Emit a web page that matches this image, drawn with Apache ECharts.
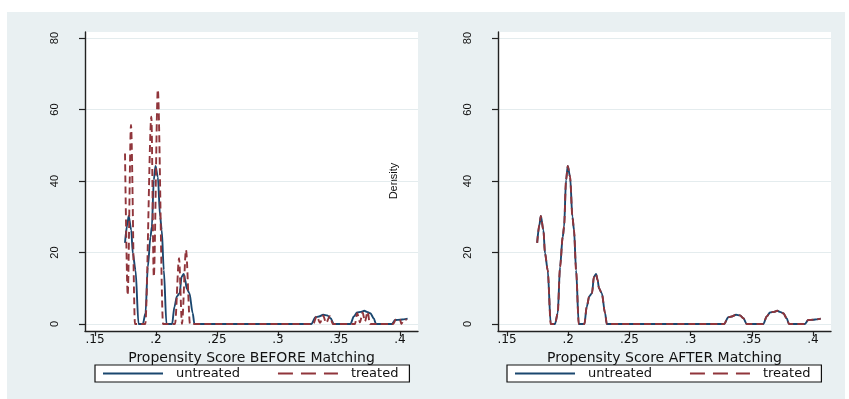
<!DOCTYPE html>
<html>
<head>
<meta charset="utf-8">
<script src="https://cdn.jsdelivr.net/npm/echarts@6/dist/echarts.min.js"></script>
<style>
  html, body { margin: 0; padding: 0; background: #ffffff; }
  #chart { width: 849px; height: 399px; }
</style>
</head>
<body>
<div id="chart"></div>
<script>
// Kernel density estimates of the propensity score: [score, density]
const untreatedDensity = [
  [0.1746, 22.7], [0.1764, 27.7], [0.1776, 30.2], [0.1797, 26.3], [0.1810, 19.8],
  [0.1832, 15.1], [0.1857, 0], [0.1892, 0], [0.1914, 3.0], [0.1933, 16.0],
  [0.1955, 24.4], [0.1966, 27.2], [0.1982, 40.3], [0.1996, 44.2], [0.2015, 41.2],
  [0.2034, 30.0], [0.2047, 26.3], [0.2064, 15.1], [0.2086, 0], [0.2132, 0],
  [0.2151, 4.8], [0.2172, 7.8], [0.2194, 8.6], [0.2210, 13.2], [0.2227, 14.0],
  [0.2240, 12.3], [0.2251, 10.0], [0.2274, 8.6], [0.2301, 3.0], [0.2315, 0],
  [0.3273, 0], [0.3308, 1.9], [0.3336, 2.1], [0.3371, 2.6], [0.3404, 2.4],
  [0.3431, 1.6], [0.3458, 0], [0.3594, 0], [0.3622, 2.1], [0.3649, 3.2],
  [0.3681, 3.4], [0.3708, 3.7], [0.3730, 3.4], [0.3757, 3.0], [0.3785, 1.6],
  [0.3804, 0], [0.3934, 0], [0.3961, 1.1], [0.4003, 1.2], [0.4030, 1.3],
  [0.4063, 1.5]
];

const treatedBeforeDensity = [
  [0.1746, 47.7], [0.1768, 8.1], [0.1795, 55.7], [0.1828, 0], [0.1912, 0],
  [0.1962, 58.0], [0.1982, 13.2], [0.2015, 65.6], [0.2058, 0], [0.2156, 0],
  [0.2189, 18.4], [0.2213, 0], [0.2246, 20.7], [0.2279, 0], [0.3289, 0],
  [0.3318, 2.2], [0.3345, 0.3], [0.3370, 2.4], [0.3395, 0.3], [0.3425, 2.2],
  [0.3450, 0], [0.3631, 0], [0.3650, 3.0], [0.3672, 0.5], [0.3694, 3.2],
  [0.3713, 0.7], [0.3735, 3.4], [0.3754, 0], [0.3945, 0], [0.3967, 1.3],
  [0.4000, 1.3], [0.4011, 0], [0.4033, 1.1], [0.4055, 1.3]
];

// After matching the treated density lies on top of the untreated one
const treatedAfterDensity = [
  [0.1746, 22.7], [0.1764, 27.7], [0.1776, 30.2], [0.1797, 26.3], [0.1810, 19.8],
  [0.1832, 15.1], [0.1857, 0], [0.1892, 0], [0.1914, 3.0], [0.1933, 16.0],
  [0.1955, 24.4], [0.1966, 27.2], [0.1982, 40.3], [0.1996, 44.2], [0.2015, 41.2],
  [0.2034, 30.0], [0.2047, 26.3], [0.2064, 15.1], [0.2086, 0], [0.2132, 0],
  [0.2151, 4.8], [0.2172, 7.8], [0.2194, 8.6], [0.2210, 13.2], [0.2227, 14.0],
  [0.2240, 12.3], [0.2251, 10.0], [0.2274, 8.6], [0.2301, 3.0], [0.2315, 0],
  [0.3273, 0], [0.3308, 1.9], [0.3336, 2.1], [0.3371, 2.6], [0.3404, 2.4],
  [0.3431, 1.6], [0.3458, 0], [0.3594, 0], [0.3622, 2.1], [0.3649, 3.2],
  [0.3681, 3.4], [0.3708, 3.7], [0.3730, 3.4], [0.3757, 3.0], [0.3785, 1.6],
  [0.3804, 0], [0.3934, 0], [0.3961, 1.1], [0.4003, 1.2], [0.4030, 1.3],
  [0.4063, 1.5]
];

const xTicks = [0.15, 0.2, 0.25, 0.3, 0.35, 0.4];
const yTicks = [0, 20, 40, 60, 80];
const panelTitles = ['Propensity Score BEFORE Matching', 'Propensity Score AFTER Matching'];
const groupNames = ['untreated', 'treated'];

const BLUE = '#1a476f';
const RED = '#90353b';
const REGION = '#e9f0f2';

const fmtScore = v => String(+(+v).toFixed(2)).replace(/^0\./, '.');

const grids = [
  { left: 85, top: 32, width: 333, height: 299 },
  { left: 498, top: 32, width: 333, height: 299 }
];
const xRanges = [[0.1418, 0.4148], [0.1426, 0.4147]];
const yRange = [-1.96, 81.7];

function xAxisFor(i) {
  return {
    gridIndex: i, type: 'value', min: xRanges[i][0], max: xRanges[i][1],
    name: panelTitles[i], nameLocation: 'middle', nameGap: 12,
    nameTextStyle: { fontFamily: 'DejaVu Sans', fontSize: 14, color: '#111', verticalAlign: 'top' },
    axisLine: { show: true, onZero: false, lineStyle: { color: '#222', width: 1.4 } },
    axisTick: { show: true, length: 5, customValues: xTicks, lineStyle: { color: '#222', width: 1.2 } },
    axisLabel: { show: true, margin: 3, customValues: xTicks, formatter: fmtScore,
      fontFamily: 'DejaVu Sans', fontSize: 12, color: '#111' },
    splitLine: { show: false }
  };
}

function yAxisFor(i) {
  return {
    gridIndex: i, type: 'value', min: yRange[0], max: yRange[1],
    axisLine: { show: true, onZero: false, lineStyle: { color: '#222', width: 1.4 } },
    axisTick: { show: true, length: 6, customValues: yTicks, lineStyle: { color: '#222', width: 1.2 } },
    axisLabel: { show: true, rotate: 90, margin: 25, customValues: yTicks,
      fontFamily: 'Liberation Sans', fontSize: 11, color: '#111' },
    splitLine: { show: true, lineStyle: { color: '#e4ecee', width: 1 } }
  };
}

function legendFor(left) {
  return {
    left: left, top: 365, orient: 'horizontal',
    data: [
      { name: groupNames[0] },
      { name: groupNames[1], lineStyle: { type: [15, 8] } }
    ],
    itemWidth: 60, itemHeight: 14, itemGap: 37,
    padding: [2, 11, 2, 7],
    borderColor: '#111', borderWidth: 1.2, backgroundColor: '#ffffff',
    itemStyle: { opacity: 0 },
    textStyle: { fontFamily: 'DejaVu Sans', fontSize: 13, color: '#111', padding: [0, 0, 0, 8] },
    selectedMode: false
  };
}

function lineSeries(name, data, i, color, dashed) {
  return {
    type: 'line', name: name, data: data, xAxisIndex: i, yAxisIndex: i,
    symbol: 'none', smooth: 0.3, smoothMonotone: 'x',
    lineStyle: { color: color, width: 1.9, type: dashed ? [7, 4] : 'solid' },
    itemStyle: { color: color },
    z: dashed ? 3 : 2
  };
}

const chart = echarts.init(document.getElementById('chart'), null, { renderer: 'canvas' });
chart.setOption({
  animation: false,
  graphic: [
    { type: 'rect', z: -10, silent: true, shape: { x: 7, y: 12, width: 838, height: 387 }, style: { fill: REGION } },
    { type: 'text', x: 394, y: 181, rotation: Math.PI / 2, silent: true,
      style: { text: 'Density', fontFamily: 'Liberation Sans', fontSize: 11, fill: '#111',
        align: 'center', verticalAlign: 'middle' } }
  ],
  grid: grids.map(g => Object.assign({ show: true, backgroundColor: '#ffffff', borderWidth: 0 }, g)),
  xAxis: [xAxisFor(0), xAxisFor(1)],
  yAxis: [yAxisFor(0), yAxisFor(1)],
  legend: [legendFor(95), legendFor(507)],
  series: [
    lineSeries(groupNames[0], untreatedDensity, 0, BLUE, false),
    lineSeries(groupNames[1], treatedBeforeDensity, 0, RED, true),
    lineSeries(groupNames[0], untreatedDensity, 1, BLUE, false),
    lineSeries(groupNames[1], treatedAfterDensity, 1, RED, true)
  ]
});
</script>
</body>
</html>
